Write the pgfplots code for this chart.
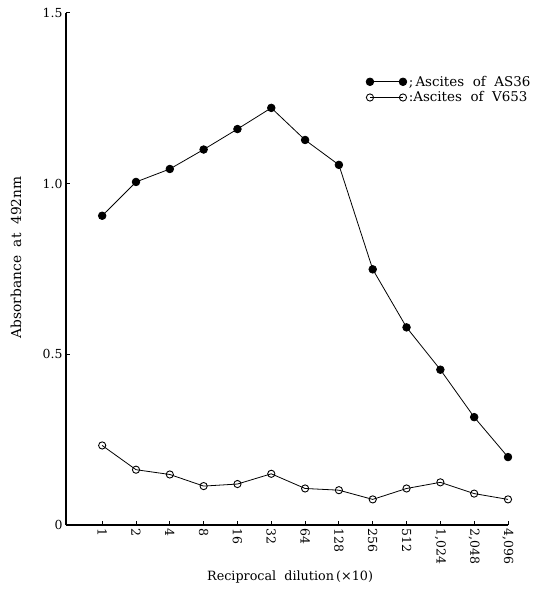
\documentclass[border=0pt]{standalone}
\usepackage{pgfplots}
\pgfplotsset{compat=1.18}
\usepackage{fontspec}
\setmainfont{DejaVu Serif}
\begin{document}
\begin{tikzpicture}[x=1bp,y=1bp]
\useasboundingbox (-66bp,-76bp) rectangle (470bp,525bp);
\begin{axis}[
  at={(0bp,0bp)}, anchor=south west,
  scale only axis, width=442bp, height=512bp,
  xmin=-1.07, xmax=12, ymin=0, ymax=1.5,
  axis x line*=bottom, axis y line*=left,
  axis line style={line width=1.3pt},
  xtick={0,...,12},
  xticklabels={1,2,4,8,16,32,64,128,256,512,{1,024},{2,048},{4,096}},
  ytick={0,0.5,1.0,1.5},
  yticklabels={0,0.5,1.0,1.5},
  tick align=inside,
  major tick length=4bp,
  tick style={line width=1pt, black},
  /pgf/number format/assume math mode=true,
  ticklabel style={font=\fontsize{12.5}{14}\selectfont},
  xticklabel style={rotate=-90, anchor=west, xshift=0bp, yshift=0bp},
  xlabel={Reciprocal\ \ dilution\,(×10)},
  ylabel={Absorbance\ \ at\ \ 492nm},
  label style={font=\fontsize{13.8}{16}\selectfont},
  xlabel style={at={(axis description cs:0.507,-0.1016)}, anchor=center, font=\fontsize{12.8}{15}\selectfont},
  ylabel style={at={(axis description cs:-0.113,0.523)}, anchor=center},
  legend style={draw=none, fill=none, at={(axis cs:7.8,1.322)}, anchor=north west,
    font=\fontsize{13.5}{15}\selectfont, row sep=0bp, inner sep=0bp,
    /tikz/every even column/.append style={column sep=0bp}},
  legend cell align=left,
  legend image code/.code={\draw[#1] plot coordinates {(0bp,0bp) (33bp,0bp)};},
  clip=false,
]
\addplot[black, line width=0.8pt, mark=*, mark size=3.8bp, mark options={fill=black}] coordinates {
(0,0.906) (1,1.005) (2,1.043) (3,1.100) (4,1.160) (5,1.222) (6,1.128)
(7,1.055) (8,0.749) (9,0.579) (10,0.455) (11,0.316) (12,0.199)};
\addlegendentry{;\,Ascites\ \ of\ \ AS36}
\addplot[black, line width=0.8pt, mark=o, mark size=3.6bp, mark options={fill=white, line width=0.9pt}] coordinates {
(0,0.233) (1,0.162) (2,0.148) (3,0.114) (4,0.120) (5,0.150) (6,0.107)
(7,0.102) (8,0.075) (9,0.107) (10,0.125) (11,0.092) (12,0.075)};
\addlegendentry{:Ascites\ \ of\ \ V653}
\end{axis}
\end{tikzpicture}
\end{document}
